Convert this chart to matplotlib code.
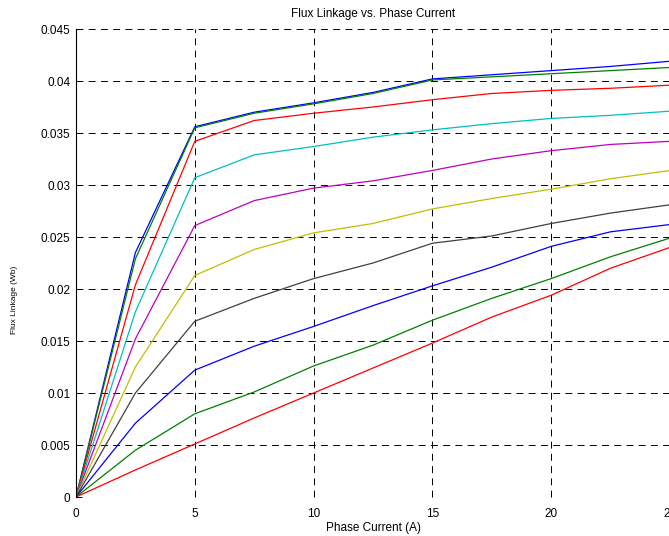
import numpy as np
import matplotlib
matplotlib.use('Agg')
import matplotlib.pyplot as plt
from matplotlib.ticker import FuncFormatter

plt.rcParams['font.family'] = ['Liberation Sans', 'DejaVu Sans']
plt.rcParams['lines.scale_dashes'] = False

# phase current (A)
current = [0, 2.5, 5, 7.5, 10, 12.5, 15, 17.5, 20, 22.5, 25]

# flux linkage (Wb), one curve per rotor position
flux_1 = [0, 0.0235, 0.0356, 0.0370, 0.0379, 0.0389, 0.0402, 0.0406, 0.0410, 0.0414, 0.0419]
flux_2 = [0, 0.0229, 0.0355, 0.0369, 0.0378, 0.0388, 0.0401, 0.0404, 0.0407, 0.0410, 0.0413]
flux_3 = [0, 0.0204, 0.0342, 0.0362, 0.0369, 0.0375, 0.0382, 0.0388, 0.0391, 0.0393, 0.0396]
flux_4 = [0, 0.0178, 0.0307, 0.0329, 0.0337, 0.0346, 0.0353, 0.0359, 0.0364, 0.0367, 0.0371]
flux_5 = [0, 0.0152, 0.0261, 0.0285, 0.0297, 0.0304, 0.0314, 0.0325, 0.0333, 0.0339, 0.0342]
flux_6 = [0, 0.0125, 0.0213, 0.0238, 0.0254, 0.0263, 0.0277, 0.0287, 0.0296, 0.0306, 0.0314]
flux_7 = [0, 0.0100, 0.0169, 0.0191, 0.0210, 0.0225, 0.0244, 0.0251, 0.0263, 0.0273, 0.0281]
flux_8 = [0, 0.0071, 0.0122, 0.0145, 0.0164, 0.0184, 0.0203, 0.0221, 0.0241, 0.0255, 0.0262]
flux_9 = [0, 0.0045, 0.0080, 0.0101, 0.0126, 0.0146, 0.0170, 0.0191, 0.0210, 0.0231, 0.0249]
flux_10 = [0, 0.0026, 0.0051, 0.0076, 0.0100, 0.0124, 0.0148, 0.0173, 0.0194, 0.0220, 0.0240]

curves = [flux_1, flux_2, flux_3, flux_4, flux_5, flux_6, flux_7, flux_8, flux_9, flux_10]
# old matlab colour order
colors = [(0, 0, 1), (0, 0.5, 0), (1, 0, 0), (0, 0.75, 0.75), (0.75, 0, 0.75),
          (0.75, 0.75, 0), (0.25, 0.25, 0.25), (0, 0, 1), (0, 0.5, 0), (1, 0, 0)]

fig = plt.figure(figsize=(6.69, 5.36), dpi=100)
ax = fig.add_axes([76/669, 39/536, 594/669, 468/536])

for y, c in zip(curves, colors):
    ax.plot(current, y, color=c, lw=0.9)

ax.set_xlim(0, 25)
ax.set_ylim(0, 0.045)
ax.set_xticks(np.arange(0, 26, 5))
ax.set_yticks(np.arange(0, 0.0451, 0.005))
ax.yaxis.set_major_formatter(FuncFormatter(lambda v, p: '%g' % round(v, 4)))
ax.grid(True, color='black', linestyle=(0, (5, 3.8)), lw=0.7)
for s in ['top', 'right', 'bottom']:
    ax.spines[s].set_visible(False)
ax.spines['left'].set_linewidth(0.8)
ax.tick_params(direction='in', length=4, labelsize=8.5, width=0.7)
ax.tick_params(axis='x', pad=8)
ax.tick_params(axis='y', pad=4)

ax.set_title('Flux Linkage vs. Phase Current', fontsize=8.5, pad=9)
ax.set_xlabel('Phase Current (A)', fontsize=8.5, labelpad=1)
fig.text(15/669, 1 - 300/536, 'Flux Linkage (Wb)', rotation=90, fontsize=6,
         ha='center', va='center')

fig.savefig('out.png', dpi=100)
